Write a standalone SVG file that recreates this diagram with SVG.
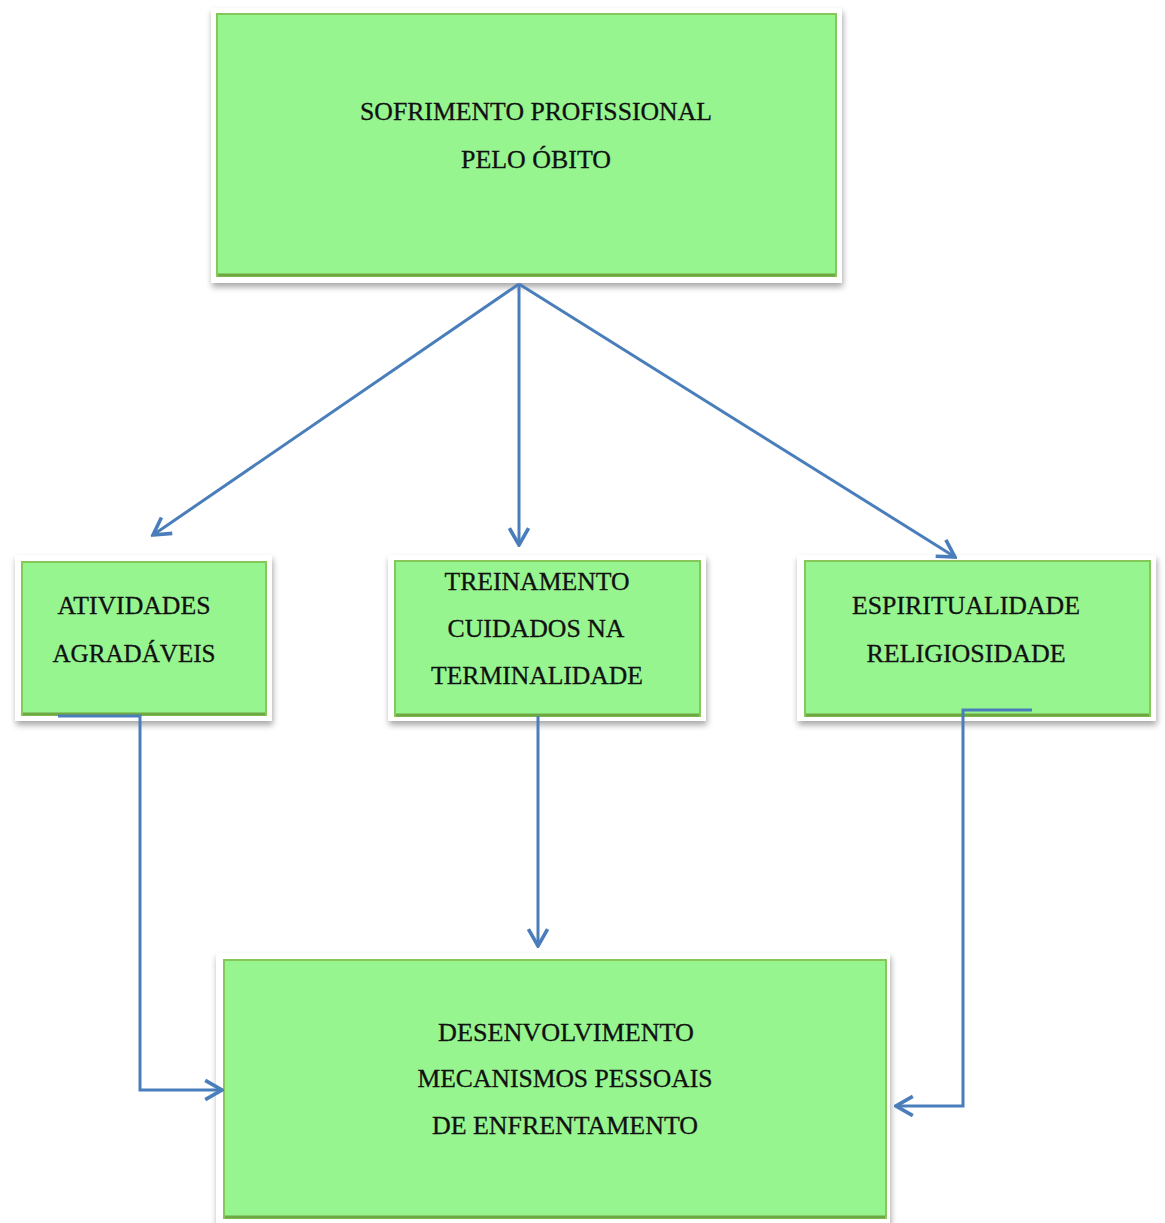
<svg xmlns="http://www.w3.org/2000/svg" width="1165" height="1223" viewBox="0 0 1165 1223">
<defs>
<filter id="sh" x="-10%" y="-10%" width="120%" height="125%">
<feGaussianBlur in="SourceAlpha" stdDeviation="3"/>
<feOffset dx="1" dy="4" result="b"/>
<feComponentTransfer><feFuncA type="linear" slope="0.35"/></feComponentTransfer>
<feMerge><feMergeNode/><feMergeNode in="SourceGraphic"/></feMerge>
</filter>
<marker id="arr" viewBox="0 0 20 20" refX="18" refY="10" markerWidth="8" markerHeight="8" markerUnits="strokeWidth" orient="auto">
<path d="M4,2 L18,10 L4,18" fill="none" stroke="#4a7ebb" stroke-width="3"/>
</marker>
<style>
.frame{fill:#ffffff;filter:url(#sh)}
.box{fill:#97f590;stroke:#86c75a;stroke-width:2}
.edge{stroke:#6fa843;stroke-width:3}
.t{font-family:"Liberation Serif","Times New Roman",serif;font-size:25px;fill:#111111;text-anchor:middle;stroke:#111111;stroke-width:0.3}
.c{fill:none;stroke:#4a7ebb;stroke-width:3}
</style>
</defs>
<rect width="1165" height="1223" fill="#ffffff"/>
<g id="node-sofrimento">
<rect class="frame" x="211" y="8" width="631" height="275"/>
<rect class="box" x="217" y="14" width="619" height="262"/>
<line class="edge" x1="218" y1="275" x2="835" y2="275"/>
<text class="t" x="536" y="120" textLength="352" lengthAdjust="spacingAndGlyphs">SOFRIMENTO PROFISSIONAL</text>
<text class="t" x="536" y="168" textLength="150" lengthAdjust="spacingAndGlyphs">PELO ÓBITO</text>
</g>
<g id="node-atividades">
<rect class="frame" x="15" y="555" width="257" height="166"/>
<rect class="box" x="22" y="562" width="244" height="153"/>
<line class="edge" x1="23" y1="714" x2="265" y2="714"/>
<text class="t" x="134" y="614" textLength="153" lengthAdjust="spacingAndGlyphs">ATIVIDADES</text>
<text class="t" x="134" y="662" textLength="163" lengthAdjust="spacingAndGlyphs">AGRADÁVEIS</text>
</g>
<g id="node-treinamento">
<rect class="frame" x="388" y="555" width="318" height="166"/>
<rect class="box" x="395" y="561" width="305" height="155"/>
<line class="edge" x1="396" y1="715" x2="699" y2="715"/>
<text class="t" x="537" y="590" textLength="185" lengthAdjust="spacingAndGlyphs">TREINAMENTO</text>
<text class="t" x="536" y="637" textLength="177" lengthAdjust="spacingAndGlyphs">CUIDADOS  NA</text>
<text class="t" x="537" y="684" textLength="212" lengthAdjust="spacingAndGlyphs">TERMINALIDADE</text>
</g>
<g id="node-espiritualidade">
<rect class="frame" x="797" y="555" width="359" height="166"/>
<rect class="box" x="805" y="561" width="345" height="155"/>
<line class="edge" x1="806" y1="715" x2="1149" y2="715"/>
<text class="t" x="966" y="614" textLength="228" lengthAdjust="spacingAndGlyphs">ESPIRITUALIDADE</text>
<text class="t" x="966" y="662" textLength="199" lengthAdjust="spacingAndGlyphs">RELIGIOSIDADE</text>
</g>
<g id="node-desenvolvimento">
<rect class="frame" x="216" y="953" width="674" height="275"/>
<rect class="box" x="224" y="960" width="662" height="258"/>
<line class="edge" x1="225" y1="1217" x2="885" y2="1217"/>
<text class="t" x="566" y="1041" textLength="256" lengthAdjust="spacingAndGlyphs">DESENVOLVIMENTO</text>
<text class="t" x="565" y="1087" textLength="295" lengthAdjust="spacingAndGlyphs">MECANISMOS  PESSOAIS</text>
<text class="t" x="565" y="1134" textLength="266" lengthAdjust="spacingAndGlyphs">DE ENFRENTAMENTO</text>
</g>
<g id="connectors">
<line class="c" x1="519" y1="284" x2="153" y2="535" marker-end="url(#arr)"/>
<line class="c" x1="519" y1="284" x2="519" y2="545" marker-end="url(#arr)"/>
<line class="c" x1="519" y1="284" x2="955" y2="557" marker-end="url(#arr)"/>
<polyline class="c" points="58,716 140,716 140,1090 222,1090" marker-end="url(#arr)"/>
<line class="c" x1="538" y1="716" x2="538" y2="946" marker-end="url(#arr)"/>
<polyline class="c" points="1032,710 963,710 963,1106 896,1106" marker-end="url(#arr)"/>
</g>
</svg>
